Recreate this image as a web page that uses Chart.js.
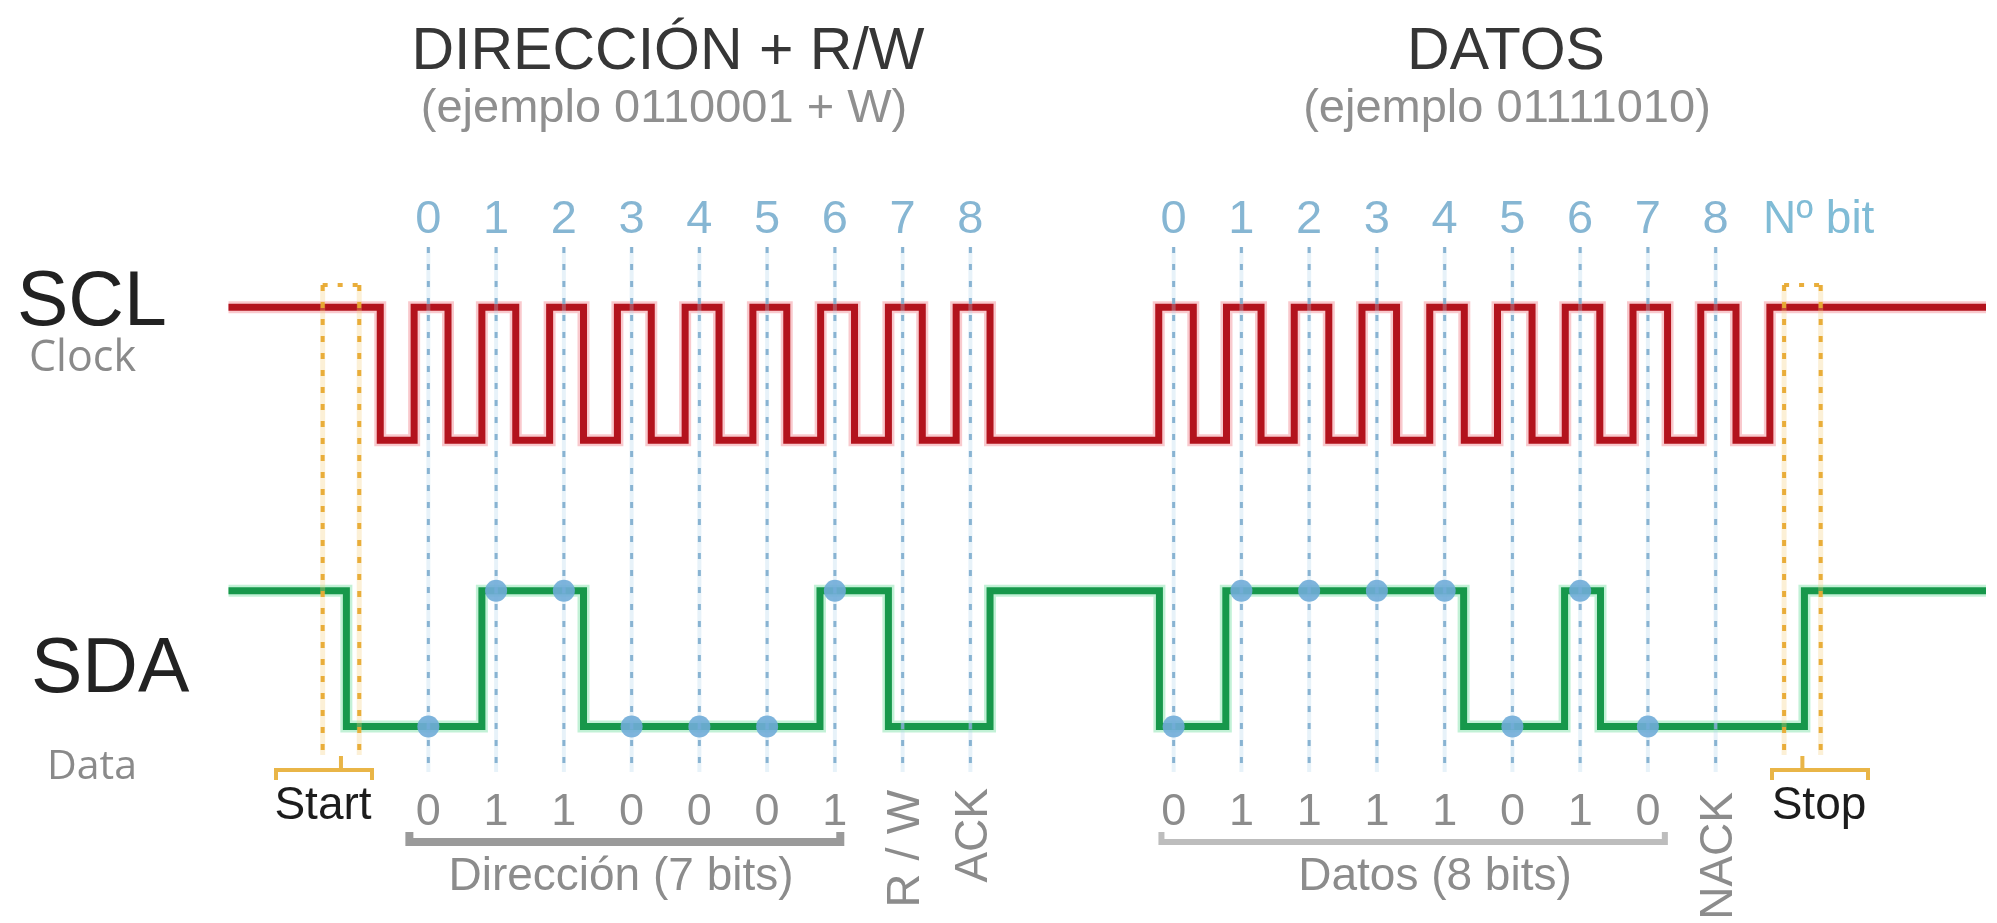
<!DOCTYPE html>
<html lang="es">
<head>
<meta charset="utf-8">
<title>I2C - trama</title>
<script src="https://cdn.jsdelivr.net/npm/chart.js@4.4.1/dist/chart.umd.min.js"></script>
<style>
  html, body { margin: 0; padding: 0; background: #fff; }
  #wrap { width: 1997px; height: 923px; position: relative; }
</style>
</head>
<body>
<div id="wrap"><canvas id="i2cChart"></canvas></div>
<script>
'use strict';

// time unit = one clock period, 0 = first address bit
let addrSlots = [0, 1, 2, 3, 4, 5, 6, 7, 8];
let dataSlots = [11, 12, 13, 14, 15, 16, 17, 18, 19];
let bitNumbers = ['0', '1', '2', '3', '4', '5', '6', '7', '8'];
let addrBits = [0, 1, 1, 0, 0, 0, 1];
let dataBits = [0, 1, 1, 1, 1, 0, 1, 0];

// SCL: time of each edge and the state after it (1 high, 0 low)
let sclTimes = [-2.95, -0.71, -0.21, 0.29, 0.79, 1.29, 1.79, 2.29, 2.79, 3.29, 3.79, 4.29,
    4.79, 5.29, 5.79, 6.29, 6.79, 7.29, 7.79, 8.29, 10.78, 11.29, 11.78, 12.29, 12.78,
    13.29, 13.78, 14.29, 14.78, 15.29, 15.78, 16.29, 16.78, 17.29, 17.78, 18.29, 18.78,
    19.30, 19.80, 23.2];
let sclState = [1, 0, 1, 0, 1, 0, 1, 0, 1, 0, 1, 0, 1, 0, 1, 0, 1, 0, 1, 0, 1, 0, 1, 0, 1,
    0, 1, 0, 1, 0, 1, 0, 1, 0, 1, 0, 1, 0, 1, 1];

// SDA
let sdaTimes = [-2.95, -1.21, 0.79, 2.29, 5.78, 6.79, 8.29, 10.79, 11.77, 15.28, 16.77, 17.30, 20.31, 23.2];
let sdaState = [1, 0, 1, 0, 1, 0, 1, 0, 1, 0, 1, 0, 1, 1];

// start / stop windows (time)
let startWindow = [-1.56, -1.02];
let stopWindow = [20.01, 20.55];

// signal levels on the y axis
let sdaLow = 0;
let sdaHigh = 1;
let sclLow = 2.11;
let sclHigh = 3.09;

function wave(times, states, lo, hi) {
    let pts = [];
    for (let i = 0; i < times.length; i++) {
        pts.push({ x: times[i], y: states[i] ? hi : lo });
    }
    return pts;
}

let sclPoints = wave(sclTimes, sclState, sclLow, sclHigh);
let sdaPoints = wave(sdaTimes, sdaState, sdaLow, sdaHigh);

let samplePoints = [];
for (let i = 0; i < addrBits.length; i++) {
    samplePoints.push({ x: addrSlots[i], y: addrBits[i] ? sdaHigh : sdaLow });
}
for (let i = 0; i < dataBits.length; i++) {
    samplePoints.push({ x: dataSlots[i], y: dataBits[i] ? sdaHigh : sdaLow });
}

const SANS = '"Liberation Sans", Arial, sans-serif';
const SOFT = '"Open Sans", "Noto Sans", sans-serif';

function px(chart, u) { return chart.scales.x.getPixelForValue(u); }

function dottedV(ctx, x, y1, y2, color, haze, w) {
    ctx.setLineDash([]);
    ctx.strokeStyle = haze;
    ctx.lineWidth = w + 1;
    ctx.beginPath(); ctx.moveTo(x, y1); ctx.lineTo(x, y2); ctx.stroke();
    ctx.setLineDash([6, 11]);
    ctx.strokeStyle = color;
    ctx.lineWidth = w;
    ctx.beginPath(); ctx.moveTo(x, y1); ctx.lineTo(x, y2); ctx.stroke();
    ctx.setLineDash([]);
}

function windowMark(ctx, x1, x2, bl, br) {
    let orange = 'rgba(232, 170, 50, 0.95)';
    dottedV(ctx, x1, 285, 755, orange, 'rgba(245, 205, 120, 0.3)', 4);
    dottedV(ctx, x2, 285, 755, orange, 'rgba(245, 205, 120, 0.3)', 4);
    ctx.setLineDash([5, 10]);
    ctx.strokeStyle = orange;
    ctx.lineWidth = 4;
    ctx.beginPath(); ctx.moveTo(x1, 285); ctx.lineTo(x2, 285); ctx.stroke();
    ctx.setLineDash([]);
    let xc = (x1 + x2) / 2;
    ctx.strokeStyle = '#e9b547';
    ctx.lineWidth = 4;
    ctx.beginPath();
    ctx.moveTo(xc, 756); ctx.lineTo(xc, 770);
    ctx.moveTo(bl, 780); ctx.lineTo(bl, 770); ctx.lineTo(br, 770); ctx.lineTo(br, 780);
    ctx.stroke();
}

function bracket(ctx, x1, x2, y, color, w) {
    ctx.strokeStyle = color;
    ctx.lineWidth = w;
    ctx.lineJoin = 'miter';
    ctx.beginPath();
    ctx.moveTo(x1, y - 10); ctx.lineTo(x1, y); ctx.lineTo(x2, y); ctx.lineTo(x2, y - 10);
    ctx.stroke();
}

function txt(ctx, s, x, y, font, color, align) {
    ctx.font = font;
    ctx.fillStyle = color;
    ctx.textAlign = align || 'center';
    ctx.textBaseline = 'alphabetic';
    ctx.fillText(s, x, y);
}

function vtxt(ctx, s, x, yTop, size, color) {
    ctx.save();
    ctx.translate(x, yTop);
    ctx.rotate(-Math.PI / 2);
    ctx.font = size + 'px ' + SANS;
    ctx.fillStyle = color;
    ctx.textAlign = 'right';
    ctx.textBaseline = 'alphabetic';
    ctx.fillText(s, 0, size * 0.716 / 2);
    ctx.restore();
}

let guidePlugin = {
    id: 'guides',
    afterDatasetDraw: function (chart, args) {
        if (args.index !== 1) return;
        let ctx = chart.ctx;
        ctx.save();
        addrSlots.concat(dataSlots).forEach(function (s) {
            dottedV(ctx, px(chart, s), 247, 772, 'rgba(125, 172, 205, 0.9)', 'rgba(175, 212, 235, 0.3)', 3);
        });
        windowMark(ctx, px(chart, startWindow[0]), px(chart, startWindow[1]), 276, 372);
        windowMark(ctx, px(chart, stopWindow[0]), px(chart, stopWindow[1]), 1772, 1868);
        ctx.restore();
    }
};

let labelPlugin = {
    id: 'labels',
    afterDraw: function (chart) {
        let ctx = chart.ctx;
        ctx.save();
        // titles
        txt(ctx, 'DIRECCIÓN + R/W', 668, 69, '59px ' + SANS, '#363636');
        txt(ctx, '(ejemplo 0110001 + W)', 664, 122, '47px ' + SANS, '#8f8f8f');
        txt(ctx, 'DATOS', 1506, 69, '59px ' + SANS, '#363636');
        txt(ctx, '(ejemplo 01111010)', 1507, 122, '47px ' + SANS, '#8f8f8f');

        // signal names
        txt(ctx, 'SCL', 17, 325, '77px ' + SANS, '#222222', 'left');
        txt(ctx, 'Clock', 29, 371, '43px ' + SOFT, '#8a8a8a', 'left');
        txt(ctx, 'SDA', 31, 692, '77px ' + SANS, '#222222', 'left');
        txt(ctx, 'Data', 47, 779, '41px ' + SOFT, '#8a8a8a', 'left');

        // bit numbers
        for (let i = 0; i < bitNumbers.length; i++) {
            txt(ctx, bitNumbers[i], px(chart, addrSlots[i]), 233, '47px ' + SANS, '#86b6d3');
            txt(ctx, bitNumbers[i], px(chart, dataSlots[i]), 233, '47px ' + SANS, '#86b6d3');
        }
        txt(ctx, 'Nº bit', 1763, 233, '46px ' + SANS, '#80bcd6', 'left');

        // bit values
        for (let i = 0; i < addrBits.length; i++) {
            txt(ctx, String(addrBits[i]), px(chart, addrSlots[i]), 825, '45px ' + SANS, '#8c8c8c');
        }
        for (let i = 0; i < dataBits.length; i++) {
            txt(ctx, String(dataBits[i]), px(chart, dataSlots[i]), 825, '45px ' + SANS, '#8c8c8c');
        }

        bracket(ctx, px(chart, -0.28), px(chart, 6.08), 842, '#9a9a9a', 8);
        bracket(ctx, px(chart, 10.82), px(chart, 18.25), 842, '#bdbdbd', 6);
        txt(ctx, 'Dirección (7 bits)', 621, 890, '46px ' + SANS, '#8c8c8c');
        txt(ctx, 'Datos (8 bits)', 1435, 890, '46px ' + SANS, '#8c8c8c');

        vtxt(ctx, 'R / W', px(chart, addrSlots[7]), 790, 47, '#8c8c8c');
        vtxt(ctx, 'ACK', px(chart, addrSlots[8]), 788, 46, '#8c8c8c');
        vtxt(ctx, 'NACK', px(chart, dataSlots[8]), 792, 46, '#8c8c8c');

        txt(ctx, 'Start', 323, 819, '46px ' + SANS, '#1c1c1c');
        txt(ctx, 'Stop', 1819, 819, '46px ' + SANS, '#1c1c1c');
        ctx.restore();
    }
};

let ctx = document.getElementById('i2cChart').getContext('2d');
let i2cChart = new Chart(ctx, {
    type: 'line',
    data: {
        datasets: [{
            label: 'muestras',
            data: samplePoints,
            showLine: false,
            pointStyle: 'circle',
            pointRadius: 11,
            pointBackgroundColor: 'rgba(112, 172, 216, 0.9)',
            pointBorderWidth: 0
        }, {
            label: 'SDA',
            data: sdaPoints,
            stepped: 'before',
            borderColor: '#17984b',
            borderWidth: 7,
            borderJoinStyle: 'miter',
            pointRadius: 0
        }, {
            label: 'SDA halo',
            data: sdaPoints,
            stepped: 'before',
            borderColor: 'rgba(120, 225, 165, 0.45)',
            borderWidth: 12,
            borderJoinStyle: 'miter',
            pointRadius: 0
        }, {
            label: 'SCL',
            data: sclPoints,
            stepped: 'before',
            borderColor: '#b3131d',
            borderWidth: 7,
            borderJoinStyle: 'miter',
            pointRadius: 0
        }, {
            label: 'SCL halo',
            data: sclPoints,
            stepped: 'before',
            borderColor: 'rgba(240, 120, 130, 0.4)',
            borderWidth: 12,
            borderJoinStyle: 'miter',
            pointRadius: 0
        }]
    },
    options: {
        responsive: true,
        maintainAspectRatio: false,
        animation: false,
        layout: { padding: 0 },
        scales: {
            x: { type: 'linear', display: false, min: -6.16, max: 22.99 },
            y: { type: 'linear', display: false, min: -1.367, max: 5.273 }
        },
        plugins: {
            legend: { display: false },
            tooltip: { enabled: false },
            title: { display: false }
        }
    },
    plugins: [guidePlugin, labelPlugin]
});
</script>
</body>
</html>
